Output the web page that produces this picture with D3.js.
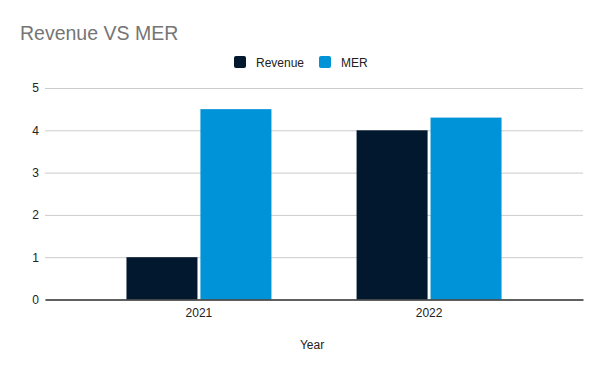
<!DOCTYPE html>
<html>
<head>
<meta charset="utf-8">
<script src="https://cdn.jsdelivr.net/npm/d3@7"></script>
<style>
  body { margin: 0; background: #fff; }
  text { font-family: "Liberation Sans", Arial, sans-serif; }
</style>
</head>
<body>
<div id="chart"></div>
<script>
// data
const years = ["2021", "2022"];
const seriesNames = ["Revenue", "MER"];
const revenue = [1, 4];
const mer = [4.5, 4.3];
const yTicks = [0, 1, 2, 3, 4, 5];
const colors = ["#02182e", "#0093d7"];

const W = 600, H = 371;
const margin = { top: 88, right: 17, bottom: 71.5, left: 45 };
const width = W - margin.left - margin.right,
    height = H - margin.top - margin.bottom;

const svg = d3.select("#chart")
    .append("svg")
    .attr("width", W)
    .attr("height", H);

// title
svg.append("text")
    .attr("x", 20)
    .attr("y", 40)
    .style("font-size", "19.5px")
    .style("fill", "#757575")
    .text("Revenue VS MER");

// legend
const legend = svg.append("g").attr("transform", "translate(234, 56)");
const legendX = [0, 85];
seriesNames.forEach((name, i) => {
    const g = legend.append("g").attr("transform", `translate(${legendX[i]}, 0)`);
    g.append("rect")
        .attr("width", 12).attr("height", 12)
        .attr("rx", 2).attr("ry", 2)
        .style("fill", colors[i]);
    g.append("text")
        .attr("x", 22).attr("y", 10.5)
        .style("font-size", "12px")
        .style("fill", "#222")
        .text(name);
});

const plot = svg.append("g")
    .attr("transform", `translate(${margin.left}, ${margin.top})`);

const x = d3.scaleBand()
    .domain(years)
    .range([0, width])
    .paddingInner(0.37)
    .paddingOuter(0.354);

const xSub = d3.scaleBand()
    .domain(seriesNames)
    .range([0, x.bandwidth()])
    .paddingInner(0.04);

const y = d3.scaleLinear()
    .domain([0, 5])
    .range([height, 0]);

// gridlines + y labels
const yAxis = plot.append("g")
    .call(d3.axisLeft(y).tickValues(yTicks).tickSize(-width).tickFormat(d3.format("d")).tickPadding(6));
yAxis.select(".domain").remove();
yAxis.selectAll(".tick line").style("stroke", "#cccccc");
yAxis.selectAll(".tick text").style("font-size", "12px").style("fill", "#222").style("font-family", "Liberation Sans, Arial, sans-serif");

// bars
const rows = years.map((yr, i) => ({ year: yr, values: [revenue[i], mer[i]] }));
plot.selectAll(".grp")
    .data(rows)
    .join("g")
    .attr("class", "grp")
    .attr("transform", d => `translate(${x(d.year)}, 0)`)
    .selectAll("rect")
    .data(d => d.values.map((v, j) => ({ key: seriesNames[j], value: v, j: j })))
    .join("rect")
    .attr("x", d => xSub(d.key))
    .attr("y", d => y(d.value))
    .attr("width", xSub.bandwidth())
    .attr("height", d => y(0) - y(d.value))
    .style("fill", d => colors[d.j]);

// x axis
const xAxis = plot.append("g")
    .attr("transform", `translate(0, ${height})`)
    .call(d3.axisBottom(x).tickSize(0).tickPadding(9));
xAxis.select(".domain").style("stroke", "#333").style("stroke-width", 1.5);
xAxis.selectAll(".tick text").style("font-size", "12px").style("fill", "#222").style("font-family", "Liberation Sans, Arial, sans-serif");

// x axis title
svg.append("text")
    .attr("x", 312)
    .attr("y", 349)
    .attr("text-anchor", "middle")
    .style("font-size", "12px")
    .style("fill", "#222")
    .text("Year");
</script>
</body>
</html>
